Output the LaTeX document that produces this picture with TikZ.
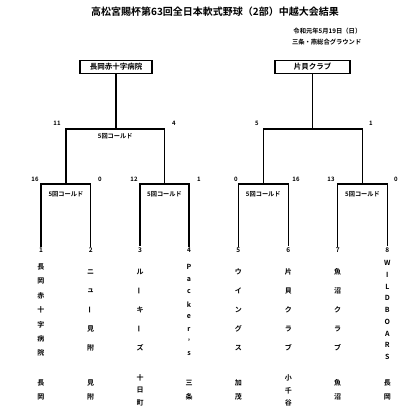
\documentclass[tikz,border=0pt]{standalone}
\usepackage{fontspec}
\usepackage{graphicx}
\setmainfont{Noto Sans CJK JP}[BoldFont={Noto Sans CJK JP Bold}]
\tikzset{
  every node/.style={font=\bfseries, inner sep=0.5pt},
  ln/.style={line width=1.2pt, line cap=rect},
  tbox/.style={draw, line width=1.2pt, minimum height=13pt, font=\fontsize{7.5}{8}\bfseries, inner sep=0pt},
  ttl/.style={font=\fontsize{10}{11}\bfseries},
  sub/.style={font=\fontsize{6.3}{7}\bfseries},
  sc/.style={font=\fontsize{6}{7}\bfseries},
  cold/.style={font=\fontsize{6.2}{7}\bfseries},
  num/.style={font=\fontsize{6.5}{7}\bfseries, inner sep=1.5pt},
  nm/.style={font=\fontsize{7}{8}\bfseries, inner sep=0pt}
}
\newcommand\vbar{\rotatebox[origin=c]{90}{ー}}
\newcommand\vcolumn[6]{%
  \pgfmathsetmacro\vstep{(#4-#3)/(#5-1)}%
  \foreach \c [count=\i from 0] in {#6} {\node[nm] (#1-\i) at (#2, {#3+\i*\vstep}) {\c};}}
\begin{document}
\begin{tikzpicture}[x=1pt,y=-1pt]
\useasboundingbox (0,0) rectangle (400,410);
% title
\node[ttl] (title) at (215,12) {高松宮賜杯第63回全日本軟式野球（2部）中越大会結果};
\node[sub, anchor=east] (date) at (362,31) {令和元年5月19日（日）};
\node[sub, anchor=east] (place) at (362,42) {三条・燕総合グラウンド};
% winners
\node[tbox, minimum width=72pt] (w1) at (116,67) {長岡赤十字病院};
\node[tbox, minimum width=75pt] (w2) at (312.5,67) {片貝クラブ};
% numbers
\foreach \k/\x in {1/41,2/90.7,3/140,4/189,5/238.3,6/288.3,7/337.7,8/387.3}
  \node[num] (n\k) at (\x,250) {\k};
% junction coordinates
\coordinate (m1) at (65.9,184);
\coordinate (m2) at (164.5,184);
\coordinate (m3) at (263.3,184);
\coordinate (m4) at (362.5,184);
\coordinate (u1) at (115.2,129);
\coordinate (u2) at (312.9,129);
% first round brackets
\draw[ln] (n1.north) -- (n1.north |- m1) -- (n2.north |- m1) -- (n2.north);
\draw[ln] (n3.north) -- (n3.north |- m2) -- (n4.north |- m2) -- (n4.north);
\draw[ln] (n5.north) -- (n5.north |- m3) -- (n6.north |- m3) -- (n6.north);
\draw[ln] (n7.north) -- (n7.north |- m4) -- (n8.north |- m4) -- (n8.north);
% second round
\draw[ln] (m1) -- (m1 |- u1) -- (m2 |- u1) -- (m2);
\draw[ln] (m3) -- (m3 |- u2) -- (m4 |- u2) -- (m4);
% to winners
\draw[ln] (w1.south) -- (w1.south |- u1);
\draw[ln] (w2.south) -- (w2.south |- u2);
% cold labels
\node[cold] (c1) at (65.9,194) {5回コールド};
\node[cold] (c2) at (164.5,194) {5回コールド};
\node[cold] (c3) at (263.3,194) {5回コールド};
\node[cold] (c4) at (362.5,194) {5回コールド};
\node[cold] (c5) at (115.2,136) {5回コールド};
% scores
\node[sc] (s11) at (57,123) {11};
\node[sc] (s12) at (174,123) {4};
\node[sc] (s13) at (257,123) {5};
\node[sc] (s14) at (371,123) {1};
\node[sc] (s1) at (35,179) {16};
\node[sc] (s2) at (100,179) {0};
\node[sc] (s3) at (134,179) {12};
\node[sc] (s4) at (199,179) {1};
\node[sc] (s5) at (236,179) {0};
\node[sc] (s6) at (296,179) {16};
\node[sc] (s7) at (331,179) {13};
\node[sc] (s8) at (396,179) {0};
% team names
\vcolumn{t1}{41}{267}{353}{7}{長,岡,赤,十,字,病,院}
\vcolumn{t2}{90.7}{272}{348}{5}{ニ,ュ,\vbar,見,附}
\vcolumn{t3}{140}{272}{348}{5}{ル,\vbar,キ,\vbar,ズ}
\vcolumn{t4}{189}{267}{354}{8}{P,a,c,k,e,r,',s}
\vcolumn{t5}{238.3}{272}{348}{5}{ウ,イ,ン,グ,ス}
\vcolumn{t6}{288.3}{272}{348}{5}{片,貝,ク,ラ,ブ}
\vcolumn{t7}{337.7}{272}{348}{5}{魚,沼,ク,ラ,ブ}
\vcolumn{t8}{387.3}{263}{357}{9}{W,I,L,D,B,O,A,R,S}
% locations
\vcolumn{l1}{41}{383}{397}{2}{長,岡}
\vcolumn{l2}{90.7}{383}{397}{2}{見,附}
\vcolumn{l3}{140}{378}{403}{3}{十,日,町}
\vcolumn{l4}{189}{383}{397}{2}{三,条}
\vcolumn{l5}{238.3}{383}{397}{2}{加,茂}
\vcolumn{l6}{288.3}{378}{403}{3}{小,千,谷}
\vcolumn{l7}{337.7}{383}{397}{2}{魚,沼}
\vcolumn{l8}{387.3}{383}{397}{2}{長,岡}
\end{tikzpicture}
\end{document}
